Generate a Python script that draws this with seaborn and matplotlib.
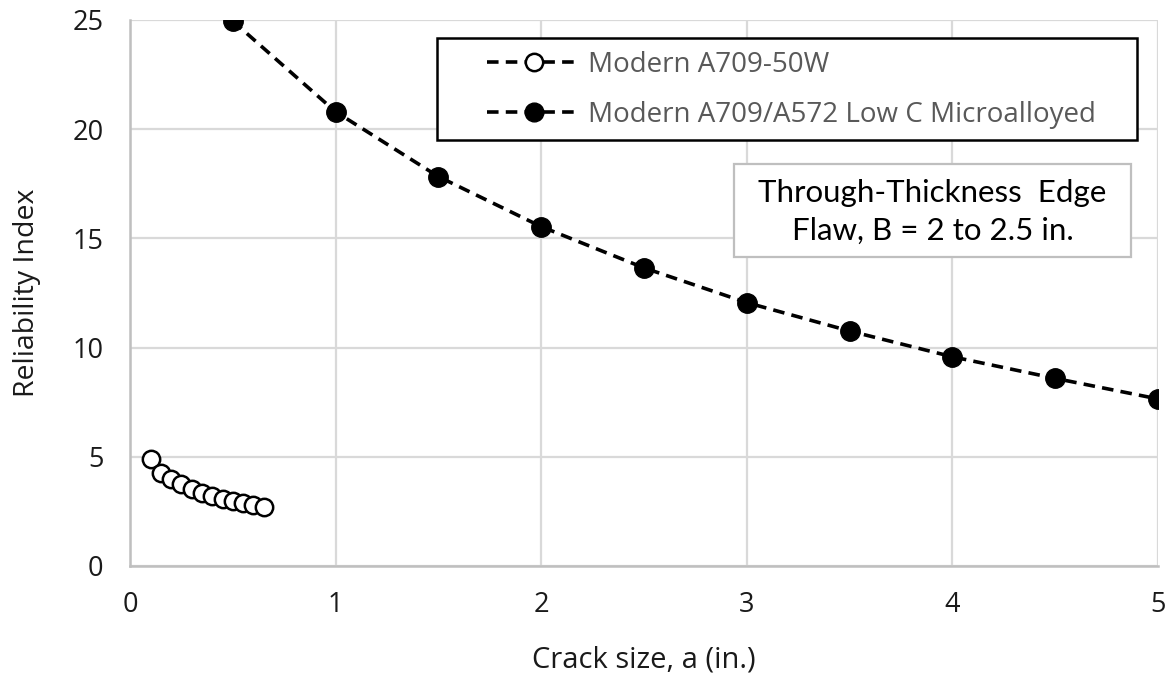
import matplotlib
matplotlib.use("Agg")
import matplotlib.pyplot as plt
import seaborn as sns
import pandas as pd
from matplotlib.lines import Line2D
from matplotlib.patches import Rectangle

# Crack size (in.) and reliability index for each steel
crack_50w = [0.10, 0.15, 0.20, 0.25, 0.30, 0.35, 0.40, 0.45, 0.50, 0.55, 0.60, 0.65]
beta_50w = [4.90, 4.27, 3.97, 3.75, 3.51, 3.36, 3.21, 3.07, 2.99, 2.90, 2.79, 2.72]

crack_lowc = [0.5, 1.0, 1.5, 2.0, 2.5, 3.0, 3.5, 4.0, 4.5, 5.0]
beta_lowc = [24.95, 20.8, 17.83, 15.54, 13.65, 12.06, 10.76, 9.58, 8.59, 7.65]

series_names = ["Modern A709-50W", "Modern A709/A572 Low C Microalloyed"]
x_ticks = [0, 1, 2, 3, 4, 5]
y_ticks = [0, 5, 10, 15, 20, 25]
note_text = "Through-Thickness  Edge\nFlaw, B = 2 to 2.5 in."

sns.set_theme(style="white")
plt.rcParams["font.family"] = ["Open Sans", "DejaVu Sans"]

W, H = 1167, 677
fig = plt.figure(figsize=(W / 100, H / 100), dpi=100)
x0, x1, y0, y1 = 130, 1158, 20, 566
ax = fig.add_axes([x0 / W, 1 - y1 / H, (x1 - x0) / W, (y1 - y0) / H])


def to_axes(px, py):
    return (px - x0) / (x1 - x0), (y1 - py) / (y1 - y0)


grid_c = "#d9d9d9"
line_kw = dict(linestyle=(0, (3.2, 2.0)), linewidth=2.6, color="black")

df_a = pd.DataFrame({"a": crack_50w, "beta": beta_50w})
df_b = pd.DataFrame({"a": crack_lowc, "beta": beta_lowc})

sns.lineplot(data=df_a, x="a", y="beta", ax=ax, marker="o", markersize=12.5,
             markerfacecolor="white", markeredgecolor="black", markeredgewidth=1.8,
             zorder=3, **line_kw)
sns.lineplot(data=df_b, x="a", y="beta", ax=ax, marker="o", markersize=14,
             markerfacecolor="black", markeredgecolor="black", markeredgewidth=1,
             zorder=3, **line_kw)

ax.set_xlim(0, 5)
ax.set_ylim(0, 25)
ax.set_xticks(x_ticks)
ax.set_yticks(y_ticks)
ax.grid(True, color=grid_c, linewidth=1.6)
ax.set_axisbelow(True)
for s in ["top", "right"]:
    ax.spines[s].set_visible(False)
for s in ["left", "bottom"]:
    ax.spines[s].set_color("#bfbfbf")
    ax.spines[s].set_linewidth(1.8)
ax.tick_params(axis="both", length=0, labelsize=19.5, labelcolor="#1a1a1a")
ax.tick_params(axis="x", pad=18)
ax.tick_params(axis="y", pad=19)

ax.set_xlabel("Crack size, a (in.)", fontsize=21, color="#1a1a1a", labelpad=19)
ax.set_ylabel("Reliability Index", fontsize=20.5, color="#1a1a1a", labelpad=23)

# Legend frame drawn as its own rectangle so the box can be sized freely
bx0, by0 = to_axes(437, 140)
bx1, by1 = to_axes(1137, 38)
ax.add_patch(Rectangle((bx0, by0), bx1 - bx0, by1 - by0, transform=ax.transAxes,
                       facecolor="white", edgecolor="black", linewidth=1.8,
                       zorder=4))

handles = [
    Line2D([], [], marker="o", markersize=12.5, markerfacecolor="white",
           markeredgecolor="black", markeredgewidth=1.8, **line_kw),
    Line2D([], [], marker="o", markersize=13.5, markerfacecolor="black",
           markeredgecolor="black", **line_kw),
]
leg = ax.legend(handles, series_names, loc="upper left",
                bbox_to_anchor=to_axes(487, 51),
                frameon=False, fontsize=20, handlelength=3.35,
                handletextpad=0.3, borderpad=0, labelspacing=0.8,
                borderaxespad=0)
leg.set_zorder(5)
for t in leg.get_texts():
    t.set_color("#595959")

# Annotation box with the flaw description
nx0, ny0 = to_axes(734, 257)
nx1, ny1 = to_axes(1131, 164)
ax.add_patch(Rectangle((nx0, ny0), nx1 - nx0, ny1 - ny0, transform=ax.transAxes,
                       facecolor="white", edgecolor="#bfbfbf", linewidth=1.6,
                       zorder=4))
ax.text(*to_axes(932.5, 212), note_text,
        transform=ax.transAxes, ha="center", va="center", fontsize=22.5,
        family=["Lato", "DejaVu Sans"], color="black", linespacing=1.4,
        zorder=5)

fig.savefig("out.png", dpi=100)
